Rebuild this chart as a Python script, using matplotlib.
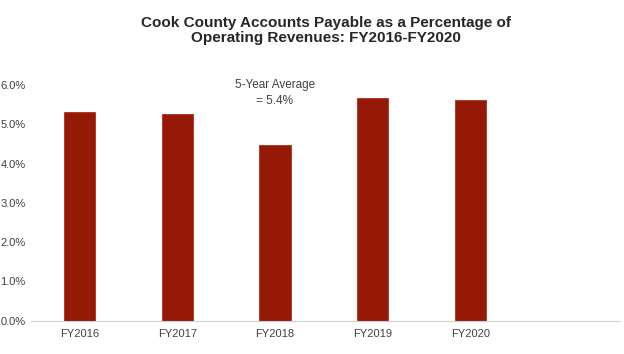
import matplotlib
matplotlib.use("Agg")
import matplotlib.pyplot as plt
from matplotlib.ticker import FuncFormatter

categories = ["FY2016", "FY2017", "FY2018", "FY2019", "FY2020"]
values = [5.31, 5.26, 4.46, 5.67, 5.61]
yticks = [0, 1, 2, 3, 4, 5, 6]
title = "Cook County Accounts Payable as a Percentage of\nOperating Revenues: FY2016-FY2020"
note = "5-Year Average\n= 5.4%"

plt.rcParams['font.family'] = ['Liberation Sans', 'DejaVu Sans']

fig = plt.figure(figsize=(6.24, 3.54), dpi=100)
ax = fig.add_axes([0.0497, 0.0946, 0.9439, 0.6653])

x = list(range(len(categories)))
ax.bar(x, values, width=0.32, color="#961905", edgecolor="#a8321f", linewidth=0.6, zorder=2)

ax.set_xlim(-0.496, 5.53)
ax.set_ylim(0, 6.0)
ax.set_yticks(yticks)
ax.yaxis.set_major_formatter(FuncFormatter(lambda v, p: f"{v:.1f}%"))
ax.set_xticks(x)
ax.set_xticklabels(categories)

for s in ["top", "right", "left"]:
    ax.spines[s].set_visible(False)
ax.spines["bottom"].set_color("#d0d0d0")
ax.spines["bottom"].set_linestyle((0, (1, 1)))
ax.spines["bottom"].set_linewidth(0.8)

ax.tick_params(axis="both", length=0, labelcolor="#404040", labelsize=8)
ax.tick_params(axis="y", pad=4)
ax.tick_params(axis="x", pad=6)

ax.text(2.0, 5.8, note, ha="center", va="center", fontsize=8.5, color="#404040",
        linespacing=1.4, clip_on=False)

fig.text(0.523, 0.915, title, ha="center", va="center", fontsize=11, fontweight="bold",
         color="#262626", linespacing=1.1)

fig.savefig("out.png", dpi=100)
